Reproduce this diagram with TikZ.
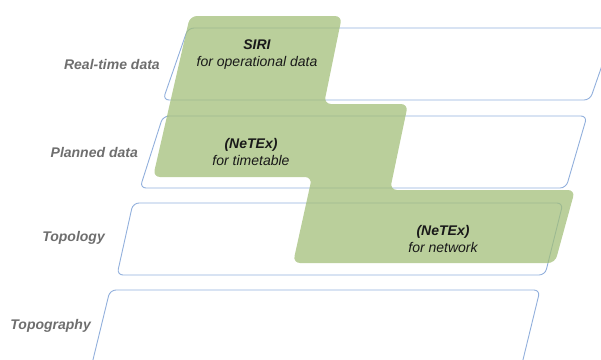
\documentclass[tikz,border=0pt]{standalone}
\usepackage{fontspec}
\setmainfont{Liberation Sans}
\usepackage{tikz}
\usetikzlibrary{positioning}

\definecolor{layerblue}{RGB}{145,175,220}
\definecolor{stdgreen}{RGB}{162,190,120}
\definecolor{labelgray}{RGB}{110,110,110}

\begin{document}
\begin{tikzpicture}[x=1pt,y=-1pt,
		layer/.style={draw=layerblue, line width=0.9pt, rounded corners=6pt},
		standard/.style={fill=stdgreen, fill opacity=0.74, rounded corners=7pt},
		levellabel/.style={font=\fontsize{14}{17}\selectfont\bfseries\itshape, text=labelgray, anchor=east, inner sep=0pt},
		stdtext/.style={font=\fontsize{14}{17}\selectfont\itshape, text=black!90, align=center, inner sep=0pt}]
						\useasboundingbox (0,0) rectangle (601,359);
						\clip (0,0) rectangle (601,359);

						% the four layers
						\draw[layer] (188,28) -- (615,28) -- (590,100) -- (163,100) -- cycle;
						\draw[layer] (163,116) -- (587,116) -- (566,188) -- (140,188) -- cycle;
						\draw[layer] (133,203) -- (563,203) -- (545,275) -- (117,275) -- cycle;
						\draw[layer] (110,290) -- (540,290) -- (520,372) -- (90,372) -- cycle;

						% the standards
						\fill[standard] (190,16) -- (342,16) -- (324,104) -- (408,104) -- (390,190) -- (575,190) -- (555,263) -- (293,263) -- (312,177) -- (153,177) -- cycle;

						\node[stdtext] (siri) at (257,55) {\textbf{SIRI}\\for operational data};
						\node[stdtext] (timetable) at (251,152) {\textbf{(NeTEx)}\\for timetable};
						\node[stdtext] (network) at (443,239) {\textbf{(NeTEx)}\\for network};

						\node[levellabel] (realtime) at (160,64) {Real-time data};
						\node[levellabel] (planned) at (138,152) {Planned data};
						\node[levellabel] (topology) at (105,238) {Topology};
						\node[levellabel] (topography) at (91,326) {Topography};
					\end{tikzpicture}
\end{document}
